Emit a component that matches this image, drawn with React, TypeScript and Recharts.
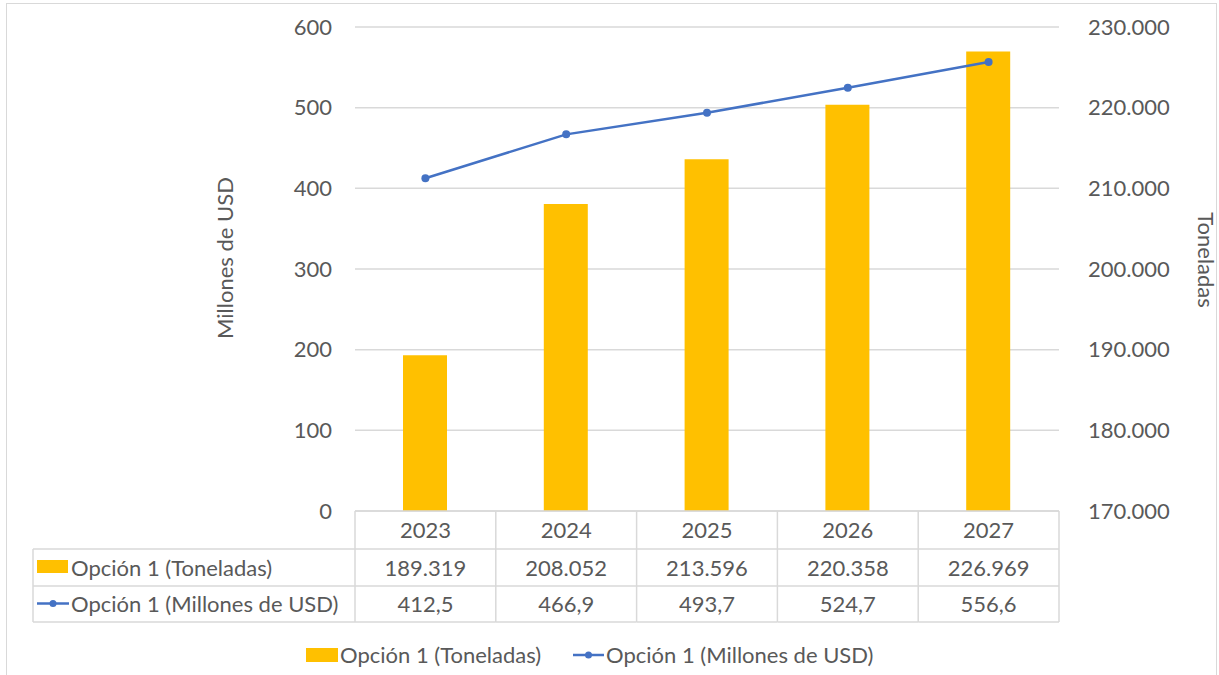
import React from 'react';
import { ComposedChart, Bar, Line, XAxis, YAxis, CartesianGrid, Customized } from 'recharts';

const years = ['2023', '2024', '2025', '2026', '2027'];
const toneladas = [189319, 208052, 213596, 220358, 226969];
const millones = [412.5, 466.9, 493.7, 524.7, 556.6];
const leftTicks = [0, 100, 200, 300, 400, 500, 600];
const rightTicks = [170000, 180000, 190000, 200000, 210000, 220000, 230000];
const seriesNames = ['Opción 1 (Toneladas)', 'Opción 1 (Millones de USD)'];
const axisTitles = ['Millones de USD', 'Toneladas'];

const data = years.map((y, i) => ({ year: y, ton: toneladas[i], usd: millones[i] }));

const W = 1219;
const H = 675;
const PLOT_LEFT = 355;
const PLOT_RIGHT = 1059;
const PLOT_TOP = 27;
const PLOT_BOTTOM = 511;
const BAND = (PLOT_RIGHT - PLOT_LEFT) / years.length;
const ROW1 = 549;
const ROW2 = 586;
const ROW3 = 622;
const TABLE_LEFT = 33;

const GRID = '#d9d9d9';
const TEXT = '#595959';
const GOLD = '#FFC000';
const BLUE = '#4472C4';
const FONT = 'Lato, "Open Sans", sans-serif';
const FS = 22;

const fmtTon = (n: number) => String(n).replace(/\B(?=(\d{3})+(?!\d))/g, '.');
const fmtUsd = (n: number) => n.toFixed(1).replace('.', ',');

function TableTick(props: any) {
  const { x, payload } = props;
  const i = years.indexOf(String(payload.value));
  const l = x - BAND / 2;
  const r = x + BAND / 2;
  const t = { fill: TEXT, fontSize: FS, fontFamily: FONT, textAnchor: 'middle' as const };
  return (
    <g>
      <line x1={l} y1={PLOT_BOTTOM} x2={l} y2={ROW3} stroke={GRID} strokeWidth={1.5} />
      {i === years.length - 1 && (
        <line x1={r} y1={PLOT_BOTTOM} x2={r} y2={ROW3} stroke={GRID} strokeWidth={1.5} />
      )}
      <line x1={l} y1={ROW1} x2={r} y2={ROW1} stroke={GRID} strokeWidth={1.5} />
      <line x1={l} y1={ROW2} x2={r} y2={ROW2} stroke={GRID} strokeWidth={1.5} />
      <line x1={l} y1={ROW3} x2={r} y2={ROW3} stroke={GRID} strokeWidth={1.5} />
      <text x={x} y={(PLOT_BOTTOM + ROW1) / 2 + 8} {...t}>{payload.value}</text>
      <text x={x} y={(ROW1 + ROW2) / 2 + 8} {...t}>{fmtTon(toneladas[i])}</text>
      <text x={x} y={(ROW2 + ROW3) / 2 + 8} {...t}>{fmtUsd(millones[i])}</text>
    </g>
  );
}

function Extras() {
  const t = { fill: TEXT, fontSize: FS, fontFamily: FONT };
  return (
    <g>
      <rect x={6.5} y={3.5} width={1210} height={700} fill="none" stroke={GRID} strokeWidth={1} />
      {/* label column of table */}
      <line x1={TABLE_LEFT} y1={ROW1} x2={PLOT_LEFT} y2={ROW1} stroke={GRID} strokeWidth={1.5} />
      <line x1={TABLE_LEFT} y1={ROW2} x2={PLOT_LEFT} y2={ROW2} stroke={GRID} strokeWidth={1.5} />
      <line x1={TABLE_LEFT} y1={ROW3} x2={PLOT_LEFT} y2={ROW3} stroke={GRID} strokeWidth={1.5} />
      <line x1={TABLE_LEFT} y1={ROW1} x2={TABLE_LEFT} y2={ROW3} stroke={GRID} strokeWidth={1.5} />
      <rect x={37} y={560} width={31} height={13} fill={GOLD} />
      <text x={71} y={(ROW1 + ROW2) / 2 + 8} {...t}>{seriesNames[0]}</text>
      <line x1={37} y1={603.5} x2={69} y2={603.5} stroke={BLUE} strokeWidth={2.5} />
      <circle cx={53} cy={603.5} r={3.5} fill={BLUE} />
      <text x={71} y={(ROW2 + ROW3) / 2 + 8} {...t}>{seriesNames[1]}</text>
      {/* legend */}
      <rect x={306} y={648} width={32} height={14} fill={GOLD} />
      <text x={340} y={663} {...t}>{seriesNames[0]}</text>
      <line x1={573} y1={655} x2={604} y2={655} stroke={BLUE} strokeWidth={2.5} />
      <circle cx={588.5} cy={655} r={3.5} fill={BLUE} />
      <text x={606} y={663} {...t}>{seriesNames[1]}</text>
      {/* axis titles */}
      <text x={0} y={0} {...t} textAnchor="middle" transform={`translate(233, 258) rotate(-90)`}>{axisTitles[0]}</text>
      <text x={0} y={0} {...t} textAnchor="middle" transform={`translate(1198, 260) rotate(90)`}>{axisTitles[1]}</text>
    </g>
  );
}

export default function App() {
  return (
    <div style={{ position: 'absolute', left: 0, top: 0, width: W, height: H, background: '#fff' }}>
      <ComposedChart
        width={W}
        height={H}
        data={data}
        margin={{ top: PLOT_TOP, right: 0, left: 0, bottom: 0 }}
      >
        <CartesianGrid yAxisId="left" vertical={false} stroke={GRID} strokeWidth={1.5} />
        <XAxis
          dataKey="year"
          height={H - PLOT_BOTTOM}
          axisLine={{ stroke: GRID, strokeWidth: 1.5 }}
          tickLine={false}
          tick={<TableTick />}
          interval={0}
        />
        <YAxis
          yAxisId="left"
          width={PLOT_LEFT}
          domain={[0, 600]}
          ticks={leftTicks}
          axisLine={false}
          tickLine={false}
          tickSize={0}
          tickMargin={23}
          tick={{ fill: TEXT, fontSize: FS, fontFamily: FONT }}
          interval={0}
        />
        <YAxis
          yAxisId="right"
          orientation="right"
          width={W - PLOT_RIGHT}
          domain={[170000, 230000]}
          ticks={rightTicks}
          axisLine={false}
          tickLine={false}
          tickSize={0}
          tickMargin={29}
          tickFormatter={(v: number) => fmtTon(v)}
          tick={{ fill: TEXT, fontSize: FS, fontFamily: FONT, textAnchor: 'start' }}
          interval={0}
        />
        <Bar yAxisId="right" dataKey="ton" fill={GOLD} barSize={44} isAnimationActive={false} />
        <Line
          yAxisId="left"
          dataKey="usd"
          stroke={BLUE}
          strokeWidth={2.5}
          dot={{ r: 4, fill: BLUE, stroke: BLUE, strokeWidth: 0 }}
          isAnimationActive={false}
        />
        <Customized component={<Extras />} />
      </ComposedChart>
    </div>
  );
}
